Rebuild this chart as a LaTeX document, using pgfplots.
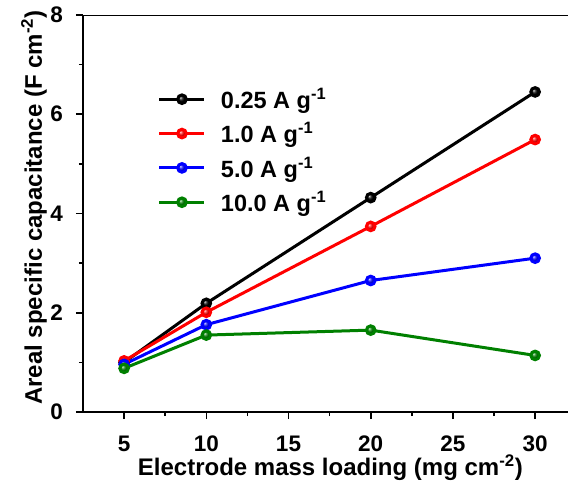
\documentclass[border=0pt]{standalone}
\usepackage{pgfplots}
\pgfplotsset{compat=1.18}
\usepackage{fontspec}
\setmainfont{Liberation Sans}
\usetikzlibrary{shadings}

\begin{document}
\begin{tikzpicture}
\begin{axis}[
    scale only axis,
    width=485pt, height=397pt,
    xmin=2.5, xmax=32,
    ymin=0, ymax=8,
    axis lines*=left,
    axis line style={line width=2pt},
    xtick={5,10,...,30},
    ytick={0,2,...,8},
    minor x tick num=1,
    minor y tick num=1,
    tick align=outside,
    major tick length=7pt,
    minor tick length=4pt,
    every tick/.style={black, line width=1.6pt},
    /pgf/number format/assume math mode=true,
    tick label style={font=\bfseries\fontsize{22.5}{22.5}\selectfont},
    xticklabel style={anchor=base, yshift=-32pt},
    yticklabel style={anchor=east, inner sep=0pt, xshift=-13pt},
    label style={font=\bfseries\fontsize{24}{24}\selectfont},
    xlabel={Electrode mass loading (mg cm\textsuperscript{-2})},
    ylabel={Areal specific capacitance (F cm\textsuperscript{-2})},
    xlabel style={at={(axis description cs:0.51,-0.141)}, anchor=center},
    ylabel style={at={(axis description cs:-0.101,0.515)}, anchor=center},
    legend style={draw=none, fill=none, at={(0.148,0.826)}, anchor=north west,
        font=\bfseries\fontsize{23.5}{23.5}\selectfont, row sep=8.5pt,
        legend cell align=left,
        /tikz/every odd column/.style={column sep=13pt}},
    legend image code/.code={
        \draw[mark repeat=2,mark phase=2] plot coordinates {(0pt,0pt)(22.5pt,0pt)(45pt,0pt)};},
    every axis plot/.append style={line width=3pt, mark=ball, mark size=4.3pt},
]
\addplot[black, mark options={ball color=black}] coordinates {(5,1.00) (10,2.19) (20,4.32) (30,6.45)};
\addlegendentry{0.25 A g\textsuperscript{-1}}
\addplot[red, mark options={ball color=red}] coordinates {(5,1.03) (10,2.01) (20,3.74) (30,5.49)};
\addlegendentry{1.0 A g\textsuperscript{-1}}
\addplot[blue, mark options={ball color=blue}] coordinates {(5,0.96) (10,1.76) (20,2.65) (30,3.10)};
\addlegendentry{5.0 A g\textsuperscript{-1}}
\addplot[green!50!black, mark options={ball color=green!50!black}] coordinates {(5,0.88) (10,1.55) (20,1.65) (30,1.14)};
\addlegendentry{10.0 A g\textsuperscript{-1}}
\draw[line width=2pt] (rel axis cs:0,1) -- (rel axis cs:1,1);
\end{axis}
\pgfresetboundingbox
\path[use as bounding box] (-83pt,-71pt) rectangle (485pt,412pt);
\end{tikzpicture}
\end{document}
